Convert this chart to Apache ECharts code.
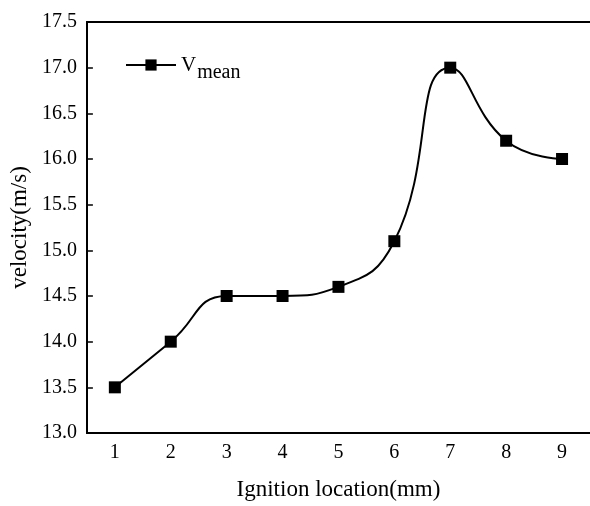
<!DOCTYPE html>
<html>
<head>
<meta charset="utf-8">
<script src="https://cdn.jsdelivr.net/npm/echarts@6/dist/echarts.min.js"></script>
<style>html,body{margin:0;padding:0;background:#fff}#c{width:590px;height:506px}</style>
</head>
<body>
<div id="c"></div>
<script>
const categories = ['1','2','3','4','5','6','7','8','9'];
const vMean = [13.5, 14.0, 14.5, 14.5, 14.6, 15.1, 17.0, 16.2, 16.0];
const yTicks = { min: 13.0, max: 17.5, interval: 0.5 };
const xTitle = 'Ignition location(mm)';
const yTitle = 'velocity(m/s)';

const FONT = 'Liberation Serif';
const chart = echarts.init(document.getElementById('c'), null, { renderer: 'canvas' });
chart.setOption({
  animation: false,
  backgroundColor: '#fff',
  grid: { left: 84, top: 22, width: 514, height: 416 },
  legend: {
    left: 120, top: 42,
    itemWidth: 50, itemHeight: 14, itemGap: 8,
    data: [{ name: 'Vmean' }],
    formatter: function () { return '{a|V}{b|mean}'; },
    textStyle: {
      fontFamily: FONT, color: '#000',
      rich: {
        a: { fontFamily: FONT, fontSize: 21, lineHeight: 21, color: '#000', verticalAlign: 'middle', padding: [0, 1, 0, 0] },
        b: { fontFamily: FONT, fontSize: 20, lineHeight: 20, color: '#000', verticalAlign: 'middle', padding: [16, 0, 0, 0] }
      }
    }
  },
  xAxis: [{
    type: 'category',
    data: categories,
    boundaryGap: true,
    name: xTitle,
    nameLocation: 'middle',
    nameGap: 45,
    nameTextStyle: { fontFamily: FONT, fontSize: 23, color: '#000' },
    axisLine: { lineStyle: { color: '#000', width: 2 } },
    axisTick: { inside: true, length: 7, alignWithLabel: true, lineStyle: { color: '#000', width: 1.5 } },
    axisLabel: { fontFamily: FONT, fontSize: 20, color: '#000', margin: 10 },
    splitLine: { show: false }
  }, {
    type: 'category',
    data: categories,
    position: 'top',
    axisLine: { show: true, lineStyle: { color: '#000', width: 2 } },
    axisTick: { show: false },
    axisLabel: { show: false },
    splitLine: { show: false }
  }],
  yAxis: {
    type: 'value',
    min: yTicks.min, max: yTicks.max, interval: yTicks.interval,
    name: yTitle,
    nameLocation: 'middle',
    nameGap: 50,
    nameRotate: 90,
    nameTextStyle: { fontFamily: FONT, fontSize: 23, color: '#000' },
    axisLine: { show: true, lineStyle: { color: '#000', width: 2 } },
    axisTick: { show: true, inside: true, length: 6, lineStyle: { color: '#000', width: 1.5 } },
    axisLabel: { fontFamily: FONT, fontSize: 20, color: '#000', margin: 10, formatter: v => v.toFixed(1) },
    splitLine: { show: false }
  },
  series: [{
    name: 'Vmean',
    type: 'line',
    xAxisIndex: 0,
    data: vMean,
    smooth: 0.5,
    symbol: 'rect',
    symbolSize: 12,
    itemStyle: { color: '#000' },
    lineStyle: { color: '#000', width: 2 }
  }]
});
</script>
</body>
</html>
